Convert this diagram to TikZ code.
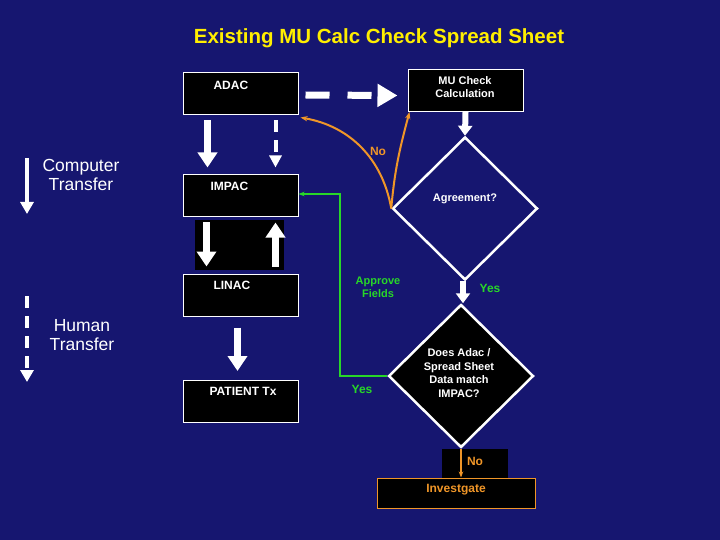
\documentclass[tikz,border=0pt]{standalone}
\usepackage{fontspec}
\setmainfont{Liberation Sans}
\usetikzlibrary{positioning,arrows.meta,shapes.geometric}
\definecolor{bgblue}{RGB}{22,22,112}
\definecolor{titleyellow}{RGB}{255,238,0}
\definecolor{noorange}{RGB}{240,150,40}
\definecolor{yesgreen}{RGB}{40,215,40}
\begin{document}
\begin{tikzpicture}[
    x=1pt, y=-1pt,
    box/.style={
        rectangle,
        draw=white,
        fill=black,
        line width=1pt,
        minimum width=115pt,
        minimum height=42pt
    },
    label/.style={
        font=\bfseries\fontsize{12}{13}\selectfont,
        text=white,
        align=center
    },
    decision/.style={
        diamond,
        draw=white,
        line width=2.5pt,
        minimum width=145pt,
        minimum height=143pt,
        inner sep=0pt
    },
    blk/.style={
        -{Triangle[width=19pt,length=15pt]},
        line width=7pt,
        white
    },
    dashblk/.style={
        blk,
        line width=5pt,
        dash pattern=on 12pt off 8pt
    },
    arrow/.style={
        -{Stealth[length=7pt]},
        line width=2pt
    }
]

% Background
\fill[bgblue] (0,0) rectangle (720,540);
\useasboundingbox (0,0) rectangle (720,540);
\node[font=\bfseries\fontsize{20.5}{22}\selectfont, text=titleyellow] (title) at (379,38) {Existing MU Calc Check Spread Sheet};

% Legend
\node[font=\fontsize{17.5}{19}\selectfont, text=white, align=center] (computer) at (81,175) {Computer\\Transfer};
\node[font=\fontsize{17.5}{19}\selectfont, text=white, align=center] (human) at (82,335) {Human\\Transfer};
\coordinate (ctop) at (27,158);
\coordinate (cbot) at (27,214);
\coordinate (htop) at (27,296);
\coordinate (hbot) at (27,382);
\draw[blk, line width=3.5pt, -{Triangle[width=13pt,length=12pt]}] (ctop) -- (cbot);
\draw[blk, line width=4pt, dash pattern=on 12pt off 8pt, -{Triangle[width=13pt,length=12pt]}] (htop) -- (hbot);

% Black panels behind arrows
\fill[black] (195,220) rectangle (284,270);
\fill[black] (442,449) rectangle (508,478);

% Boxes
\node[box] (adac) at (240.5,94) {};
\node[label, anchor=west] at (210,85) {ADAC};
\node[box] (mu) at (465.5,90.5) {};
\node[label, font=\bfseries\fontsize{11}{12.5}\selectfont] at (465,87) {MU Check\\Calculation};
\node[box] (impac) at (240.5,196) {};
\node[label, anchor=west] at (207,186) {IMPAC};
\node[box] (linac) at (240.5,295) {};
\node[label, anchor=west] at (210,285) {LINAC};
\node[box] (patient) at (240.5,401.5) {};
\node[label, anchor=west] at (206,391) {PATIENT Tx};
\node[box, draw=noorange, minimum width=158pt, minimum height=30pt] (invest) at (456,493) {};
\node[label, text=noorange] at (456,490) {Investgate};

% Decisions
\node[decision] (agree) at (465,208.5) {};
\node[label, font=\bfseries\fontsize{11}{12}\selectfont] at (465,199) {Agreement?};
\node[decision, fill=black] (match) at (461,376) {};
\node[label, font=\bfseries\fontsize{11}{13.5}\selectfont] at (459,373) {Does Adac /\\Spread Sheet\\Data match\\IMPAC?};

% Block arrows
\draw[blk] ([xshift=25pt,yshift=-5pt]adac.south west) -- ([xshift=25pt,yshift=7pt]impac.north west);
\draw[dashblk, line width=4pt, -{Triangle[width=12pt,length=12pt]}] ([xshift=93pt,yshift=-5pt]adac.south west) -- ([xshift=93pt,yshift=7pt]impac.north west);
\draw[dashblk, line width=7pt, dash pattern=on 24pt off 18pt, -{Triangle[width=22pt,length=20pt]}] ([xshift=7pt,yshift=-1pt]adac.east) -- ([xshift=-10pt,yshift=-5pt]mu.west);
\draw[blk, line width=6pt, -{Triangle[width=14pt,length=10pt]}] (mu.south) -- (agree.north);
\draw[blk] ([xshift=24pt,yshift=-5pt]impac.south west) -- ([xshift=24pt,yshift=7pt]linac.north west);
\draw[blk] ([xshift=93pt,yshift=7pt]linac.north west) -- ([xshift=93pt,yshift=-5pt]impac.south west);
\draw[blk] ([xshift=55pt,yshift=-11pt]linac.south west) -- ([xshift=55pt,yshift=9pt]patient.north west);
\draw[blk, line width=6pt, -{Triangle[width=14pt,length=10pt]}] ([xshift=-2pt]agree.south) -- ([xshift=-2pt]agree.south |- match.north);

% No branch
\draw[arrow, noorange] (agree.west) to[out=100, in=-10] ([xshift=2pt,yshift=-2pt]adac.south east);
\draw[arrow, noorange] (agree.west) to[out=85, in=-105] ([xshift=2pt]mu.south west);
\node[font=\bfseries\fontsize{12}{13}\selectfont, text=noorange] (no1) at (378,151) {No};
\draw[arrow, noorange, line width=2.5pt, -{Stealth[length=6pt]}] (match.south) -- (match.south |- invest.north);
\node[font=\bfseries\fontsize{12}{13}\selectfont, text=noorange] (no2) at (475,461) {No};

% Yes branch
\coordinate (bendlow) at (340,376);
\coordinate (bendhigh) at (340,194);
\draw[arrow, yesgreen, line width=2.5pt, -{Stealth[length=6pt]}] (match.west) -- (bendlow) -- (bendhigh) -- ([yshift=2pt]impac.east);
\node[font=\bfseries\fontsize{11}{13}\selectfont, text=yesgreen, align=center] (approve) at (378,287) {Approve\\Fields};
\node[font=\bfseries\fontsize{12}{13}\selectfont, text=yesgreen] (yes1) at (362,389) {Yes};
\node[font=\bfseries\fontsize{12}{13}\selectfont, text=yesgreen] (yes2) at (490,288) {Yes};

\end{tikzpicture}
\end{document}
